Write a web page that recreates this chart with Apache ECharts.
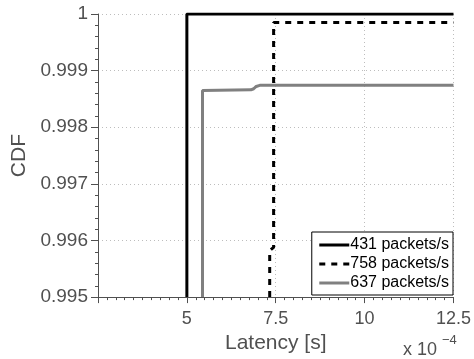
<!DOCTYPE html>
<html>
<head>
<meta charset="utf-8">
<script src="https://cdn.jsdelivr.net/npm/echarts@6/dist/echarts.min.js"></script>
<style>
  html, body { margin: 0; padding: 0; background: #fff; }
  #chart { width: 474px; height: 359px; }
</style>
</head>
<body>
<div id="chart"></div>
<script>
// Latency in units of 1e-4 s, CDF values per rate
const seriesNames = ['431 packets/s', '758 packets/s', '637 packets/s'];

const latency431 = [5.0, 5.0, 12.5];
const cdf431     = [0.995, 1.0, 1.0];

const latency758 = [7.33, 7.33, 7.44, 7.44, 12.5];
const cdf758     = [0.995, 0.99582, 0.99588, 0.99985, 0.99985];

const latency637 = [5.44, 5.44, 6.8, 6.88, 6.95, 7.05, 12.5];
const cdf637     = [0.995, 0.99865, 0.99866, 0.99868, 0.99872, 0.99874, 0.99874];

const xTicks = { min: 2.5, max: 12.5, step: 2.5 };
const yTicks = { min: 0.995, max: 1.0, step: 0.001 };

const pairs = (xs, ys) => xs.map((x, i) => [x, ys[i]]);

const font = '"Liberation Sans", Arial, Helvetica, sans-serif';
const axisGray = '#505050';
const gridStyle = { color: '#bdbdbd', type: [1, 3], width: 1 };

const chart = echarts.init(document.getElementById('chart'), null, { renderer: 'canvas' });

chart.setOption({
  animation: false,
  backgroundColor: '#ffffff',
  textStyle: { fontFamily: font },
  grid: { left: 98, right: 18, top: 14, bottom: 61 },
  xAxis: {
    type: 'value',
    min: xTicks.min, max: xTicks.max, interval: xTicks.step,
    name: 'Latency [s]',
    nameLocation: 'middle',
    nameGap: 31,
    nameTextStyle: { fontSize: 21, color: axisGray, fontFamily: font },
    axisLine: { show: true, onZero: false, lineStyle: { color: axisGray, width: 1 } },
    axisTick: { show: true, length: 6, lineStyle: { color: axisGray } },
    minorTick: { show: true, splitNumber: 10, length: 3, lineStyle: { color: axisGray } },
    axisLabel: {
      fontSize: 18, color: axisGray, margin: 13, fontFamily: font,
      showMinLabel: false,
      formatter: v => String(parseFloat(v.toFixed(2)))
    },
    splitLine: { show: true, lineStyle: gridStyle }
  },
  yAxis: {
    type: 'value',
    min: yTicks.min, max: yTicks.max, interval: yTicks.step,
    name: 'CDF',
    nameLocation: 'middle',
    nameGap: 68,
    nameTextStyle: { fontSize: 21, color: axisGray, fontFamily: font },
    axisLine: { show: true, onZero: false, lineStyle: { color: axisGray, width: 1 } },
    axisTick: { show: true, length: 7, lineStyle: { color: axisGray } },
    minorTick: { show: true, splitNumber: 5, length: 3, lineStyle: { color: axisGray } },
    axisLabel: {
      fontSize: 19, color: axisGray, margin: 10, fontFamily: font,
      formatter: v => String(parseFloat(v.toFixed(3)))
    },
    splitLine: { show: true, lineStyle: gridStyle }
  },
  legend: {
    orient: 'vertical',
    right: 21,
    bottom: 64,
    backgroundColor: '#ffffff',
    borderColor: '#000000',
    borderWidth: 1,
    padding: [5, 4, 4, 6],
    itemGap: 3,
    itemWidth: 30,
    itemHeight: 16,
    itemStyle: { opacity: 0, borderWidth: 0 },
    lineStyle: { width: 3 },
    textStyle: { fontSize: 16, color: '#000', fontFamily: font, padding: [0, 0, 0, -4] },
    data: seriesNames
  },
  graphic: [
    {
      type: 'text', left: 403, top: 341,
      style: { text: 'x 10', fontSize: 18, fill: axisGray, fontFamily: font }
    },
    {
      type: 'text', left: 442, top: 334,
      style: { text: '−4', fontSize: 13, fill: axisGray, fontFamily: font }
    }
  ],
  series: [
    {
      name: seriesNames[0], type: 'line', symbol: 'none', clip: true,
      data: pairs(latency431, cdf431),
      lineStyle: { color: '#000000', width: 3 },
      itemStyle: { color: '#000000' },
      z: 3
    },
    {
      name: seriesNames[1], type: 'line', symbol: 'none', clip: true,
      data: pairs(latency758, cdf758),
      lineStyle: { color: '#000000', width: 3, type: [6, 6] },
      itemStyle: { color: '#000000' },
      z: 4
    },
    {
      name: seriesNames[2], type: 'line', symbol: 'none', clip: true,
      data: pairs(latency637, cdf637),
      lineStyle: { color: '#808080', width: 3 },
      itemStyle: { color: '#808080' },
      z: 2
    }
  ]
});
</script>
</body>
</html>
